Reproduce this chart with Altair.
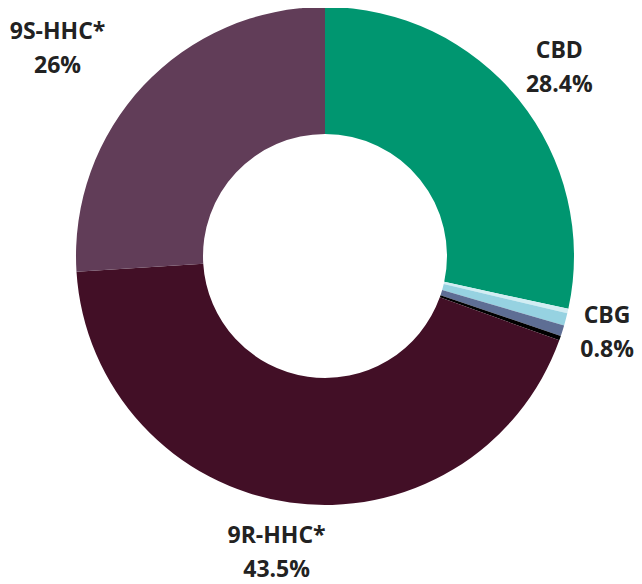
import altair as alt
import pandas as pd

categories = ["CBD", "Other A", "CBG", "Other B", "Other C", "9R-HHC*", "9S-HHC*"]
shares = [28.4, 0.3, 0.8, 0.7, 0.3, 43.5, 26.0]
labels = ["CBD\n28.4%", "", "CBG\n0.8%", "", "", "9R-HHC*\n43.5%", "9S-HHC*\n26%"]
colors = ["#009670", "#d2edf3", "#96d2e1", "#5e6e94", "#000000", "#420f26", "#613d58"]

# label nudges (dx, dy) in pixels, applied on top of the polar placement
label_nudge = {"CBD": (0, -16), "CBG": (-9, -17), "9R-HHC*": (-6, -18), "9S-HHC*": (-48, -18)}

df = pd.DataFrame({
    "cat": categories,
    "share": shares,
    "label": labels,
    "idx": list(range(len(categories))),
})

cx, cy = 317, 248

base = alt.Chart(df)

arcs = base.mark_arc(outerRadius=249, innerRadius=122, stroke=None).encode(
    theta=alt.Theta("share:Q", stack=True),
    color=alt.Color("cat:N", scale=alt.Scale(domain=categories, range=colors), legend=None),
    order=alt.Order("idx:Q"),
    x=alt.value(cx),
    y=alt.value(cy),
)

layers = [arcs]
for name, (ndx, ndy) in label_nudge.items():
    t = base.transform_calculate(
        lab=f"datum.cat == '{name}' ? datum.label : ''"
    ).mark_text(
        font="Open Sans", fontWeight="bold", fontSize=23, color="#222222",
        lineBreak="\n", lineHeight=34, align="center", baseline="middle",
        radius=301, dx=ndx, dy=ndy,
    ).encode(
        theta=alt.Theta("share:Q", stack=True),
        text="lab:N",
        order=alt.Order("idx:Q"),
        x=alt.value(cx),
        y=alt.value(cy),
    )
    layers.append(t)

chart = alt.layer(*layers).properties(
    width=626, height=576, autosize=alt.AutoSizeParams(type="none"), padding=0
).configure_view(stroke=None)

chart.save("out.html", embed_options={"renderer": "svg", "actions": False})
